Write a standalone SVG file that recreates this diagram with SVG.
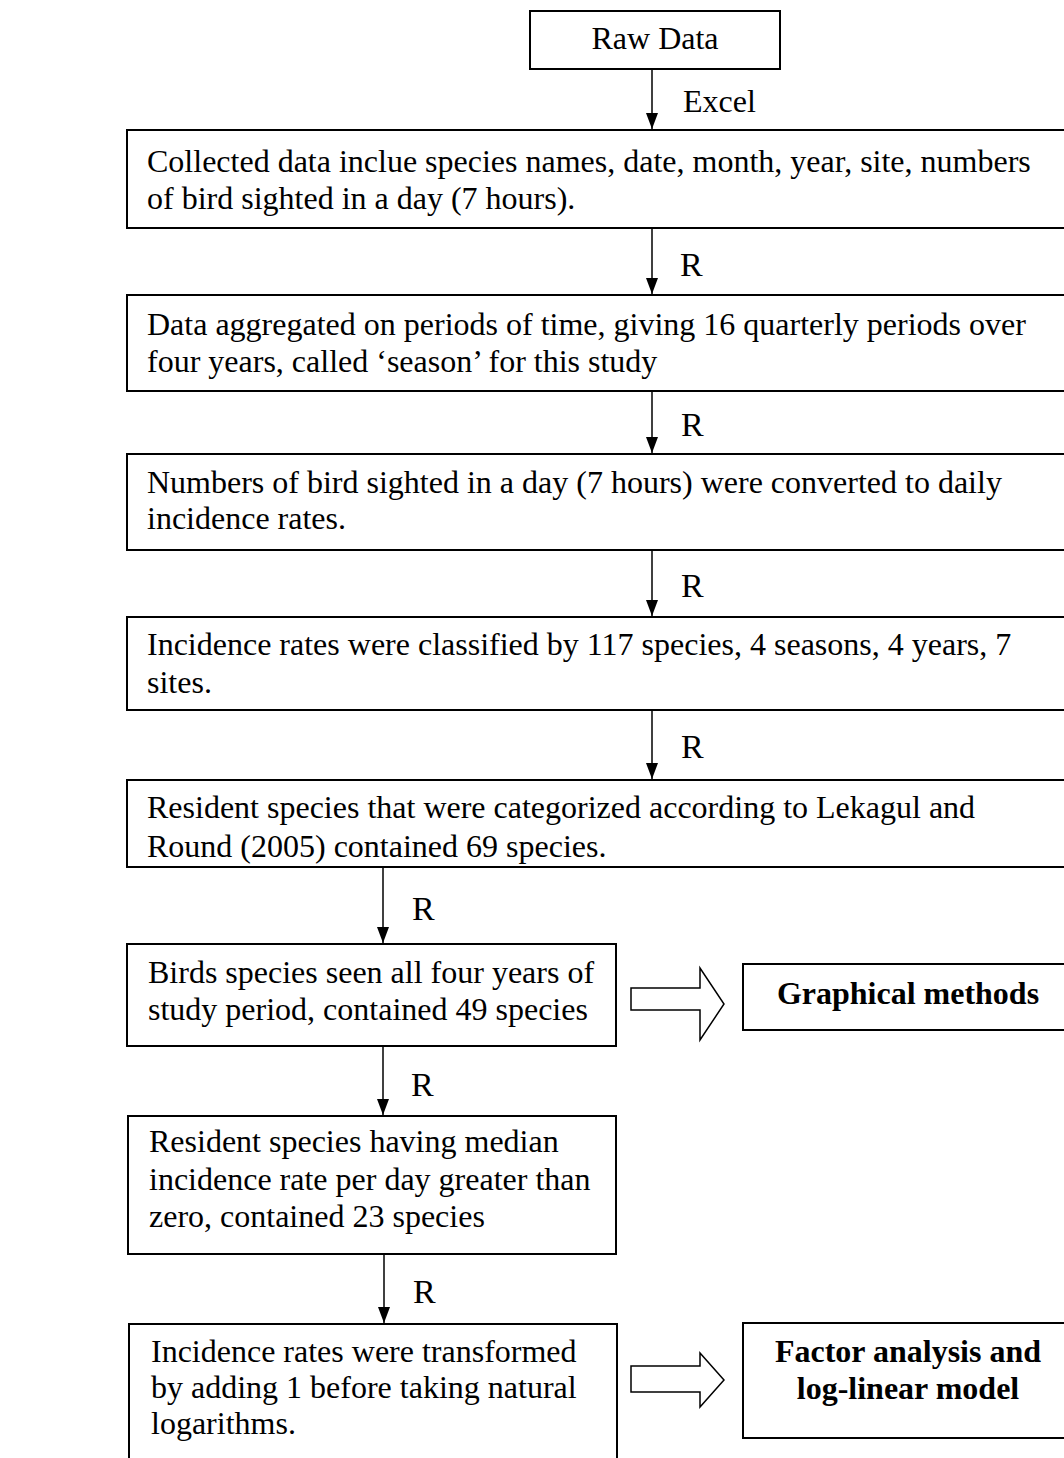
<svg xmlns="http://www.w3.org/2000/svg" width="1064" height="1458" viewBox="0 0 1064 1458">
<style>
.box{fill:#fff;stroke:#000;stroke-width:2}
.t{font-family:"Liberation Serif","Times New Roman",serif;font-size:32px;fill:#000}
.b{font-family:"Liberation Serif","Times New Roman",serif;font-size:32px;font-weight:bold;fill:#000;text-anchor:middle}
.lbl{font-family:"Liberation Serif","Times New Roman",serif;font-size:34px;fill:#000}
.ex{font-family:"Liberation Serif","Times New Roman",serif;font-size:32px;fill:#000}
.ln{stroke:#000;stroke-width:1.5;fill:none;marker-end:url(#ah)}
.blk{fill:#fff;stroke:#000;stroke-width:1.5;stroke-linejoin:miter}
</style>
<defs>
<marker id="ah" viewBox="0 0 16 12" refX="16" refY="6" markerWidth="16" markerHeight="12" markerUnits="userSpaceOnUse" orient="auto">
<path d="M0,0 L16,6 L0,12 Z" fill="#000"/>
</marker>
</defs>
<rect width="1064" height="1458" fill="#fff"/>
<g id="connectors">
<line class="ln" x1="652" y1="69" x2="652" y2="129"/>
<line class="ln" x1="652" y1="228" x2="652" y2="294"/>
<line class="ln" x1="652" y1="391" x2="652" y2="453"/>
<line class="ln" x1="652" y1="550" x2="652" y2="616"/>
<line class="ln" x1="652" y1="710" x2="652" y2="779"/>
<line class="ln" x1="383" y1="867" x2="383" y2="943"/>
<line class="ln" x1="383" y1="1046" x2="383" y2="1115"/>
<line class="ln" x1="384" y1="1254" x2="384" y2="1323"/>
<polygon class="blk" points="631,988 700,988 700,968 724,1004 700,1040 700,1010 631,1010"/>
<polygon class="blk" points="631,1366 700,1366 700,1353 724,1380 700,1407 700,1392 631,1392"/>
<text class="ex" x="683" y="112">Excel</text>
<text class="lbl" x="680" y="276">R</text>
<text class="lbl" x="681" y="436">R</text>
<text class="lbl" x="681" y="597">R</text>
<text class="lbl" x="681" y="758">R</text>
<text class="lbl" x="412" y="920">R</text>
<text class="lbl" x="411" y="1096">R</text>
<text class="lbl" x="413" y="1303">R</text>
</g>
<g id="n-raw">
<rect class="box" x="530" y="11" width="250" height="58"/>
<text class="t" x="655" y="49" text-anchor="middle">Raw Data</text>
</g>
<g id="n-collected">
<rect class="box" x="127" y="130" width="945" height="98"/>
<text class="t" x="147" y="172">Collected data inclue species names, date, month, year, site, numbers</text>
<text class="t" x="147" y="209">of bird sighted in a day (7 hours).</text>
</g>
<g id="n-aggregated">
<rect class="box" x="127" y="295" width="945" height="96"/>
<text class="t" x="147" y="335">Data aggregated on periods of time, giving 16 quarterly periods over</text>
<text class="t" x="147" y="372">four years, called ‘season’ for this study</text>
</g>
<g id="n-converted">
<rect class="box" x="127" y="454" width="945" height="96"/>
<text class="t" x="147" y="493">Numbers of bird sighted in a day (7 hours) were converted to daily</text>
<text class="t" x="147" y="529">incidence rates.</text>
</g>
<g id="n-classified">
<rect class="box" x="127" y="617" width="945" height="93"/>
<text class="t" x="147" y="655">Incidence rates were classified by 117 species, 4 seasons, 4 years, 7</text>
<text class="t" x="147" y="693">sites.</text>
</g>
<g id="n-resident">
<rect class="box" x="127" y="780" width="945" height="87"/>
<text class="t" x="147" y="818">Resident species that were categorized according to Lekagul and</text>
<text class="t" x="147" y="857">Round (2005) contained 69 species.</text>
</g>
<g id="n-fouryears">
<rect class="box" x="127" y="944" width="489" height="102"/>
<text class="t" x="148" y="983">Birds species seen all four years of</text>
<text class="t" x="148" y="1020">study period, contained 49 species</text>
</g>
<g id="n-graphical">
<rect class="box" x="743" y="964" width="330" height="66"/>
<text class="b" x="908" y="1004">Graphical methods</text>
</g>
<g id="n-median">
<rect class="box" x="128" y="1116" width="488" height="138"/>
<text class="t" x="149" y="1152">Resident species having median</text>
<text class="t" x="149" y="1190">incidence rate per day greater than</text>
<text class="t" x="149" y="1227">zero, contained 23 species</text>
</g>
<g id="n-transformed">
<rect class="box" x="129" y="1324" width="488" height="150"/>
<text class="t" x="151" y="1362">Incidence rates were transformed</text>
<text class="t" x="151" y="1398">by adding 1 before taking natural</text>
<text class="t" x="151" y="1434">logarithms.</text>
</g>
<g id="n-factor">
<rect class="box" x="743" y="1323" width="330" height="115"/>
<text class="b" x="908" y="1362">Factor analysis and</text>
<text class="b" x="908" y="1399">log-linear model</text>
</g>
</svg>
